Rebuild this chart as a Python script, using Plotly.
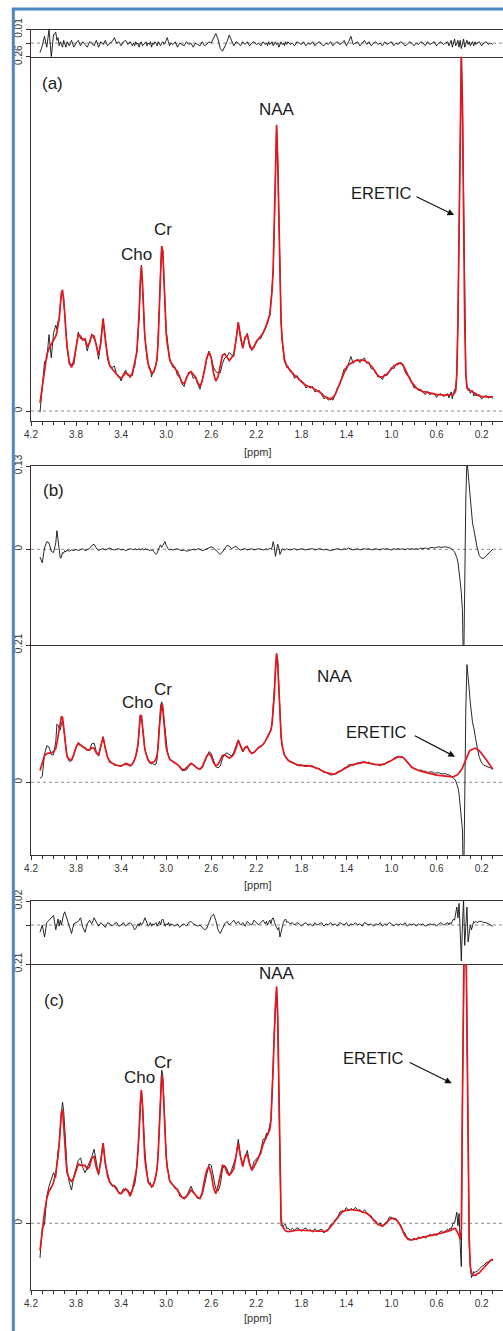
import plotly.graph_objects as go

# ---------------- data ----------------
PPM = [
    4.12, 4.10, 4.08, 4.06, 4.04, 4.02, 4.00, 3.98,
    3.97, 3.96, 3.95, 3.94, 3.93, 3.92, 3.91, 3.90, 3.89, 3.88,
    3.86, 3.84, 3.82, 3.80, 3.78, 3.76, 3.74, 3.72, 3.70, 3.68,
    3.66, 3.64, 3.62, 3.60, 3.58, 3.56, 3.54, 3.52, 3.50, 3.48,
    3.46, 3.44, 3.42, 3.40, 3.38, 3.36, 3.34, 3.32, 3.30,
    3.29, 3.28, 3.27, 3.26, 3.25, 3.24, 3.23, 3.22, 3.21, 3.20,
    3.19, 3.18, 3.17, 3.16, 3.15, 3.14, 3.13, 3.12, 3.11, 3.10,
    3.09, 3.08, 3.07, 3.06, 3.05, 3.04, 3.03, 3.02, 3.01, 3.00,
    2.99, 2.98, 2.97, 2.96,
    2.94, 2.92, 2.90, 2.88, 2.86, 2.84, 2.82, 2.80, 2.78, 2.76,
    2.74, 2.72, 2.70, 2.68, 2.66, 2.64, 2.62, 2.60, 2.58, 2.56,
    2.54, 2.52, 2.50, 2.48, 2.46, 2.44, 2.42, 2.40, 2.38, 2.36,
    2.34, 2.32, 2.30, 2.28, 2.26, 2.24, 2.22, 2.20, 2.18, 2.16,
    2.14, 2.12,
    2.11, 2.10, 2.09, 2.08, 2.07, 2.06, 2.05, 2.04, 2.03, 2.02,
    2.01, 2.00, 1.99, 1.98, 1.97, 1.96, 1.95, 1.94, 1.93,
    1.92, 1.90, 1.88, 1.86, 1.84, 1.82, 1.80, 1.78, 1.76, 1.74,
    1.72, 1.70, 1.68, 1.66, 1.64, 1.62, 1.60, 1.58, 1.56, 1.54,
    1.52, 1.50, 1.48, 1.46, 1.44, 1.42, 1.40, 1.38, 1.36, 1.34,
    1.32, 1.30, 1.28, 1.26, 1.24, 1.22, 1.20, 1.18, 1.16, 1.14,
    1.12, 1.10, 1.08, 1.06, 1.04, 1.02, 1.00, 0.98, 0.96, 0.94,
    0.92, 0.90, 0.88, 0.86, 0.84, 0.82, 0.80, 0.78, 0.76, 0.74,
    0.72, 0.70, 0.68, 0.66, 0.64, 0.62, 0.60, 0.58, 0.56, 0.54,
    0.52, 0.50,
    0.49, 0.48, 0.47, 0.46, 0.45, 0.44, 0.43, 0.42, 0.41, 0.40,
    0.39, 0.38, 0.37, 0.36, 0.35, 0.34, 0.33, 0.32, 0.31, 0.30,
    0.29, 0.28, 0.27, 0.26, 0.25, 0.24,
    0.22, 0.20, 0.18, 0.16, 0.14, 0.12, 0.10,
]

# panel (a): fitted spectrum (red) and residual (top strip)
FIT_A = [
    0.006, 0.019, 0.031, 0.041, 0.046, 0.049, 0.051, 0.055,
    0.058, 0.062, 0.068, 0.077, 0.087, 0.089, 0.082, 0.071, 0.058, 0.047,
    0.036, 0.032, 0.037, 0.046, 0.056, 0.055, 0.052, 0.053, 0.047, 0.050,
    0.056, 0.055, 0.047, 0.041, 0.050, 0.068, 0.052, 0.040, 0.033, 0.031,
    0.029, 0.027, 0.025, 0.024, 0.026, 0.028, 0.027, 0.025, 0.028,
    0.031, 0.034, 0.039, 0.044, 0.055, 0.072, 0.094, 0.106, 0.093, 0.071,
    0.055, 0.047, 0.040, 0.035, 0.032, 0.030, 0.028, 0.028, 0.029, 0.031,
    0.034, 0.040, 0.053, 0.078, 0.105, 0.121, 0.117, 0.094, 0.073, 0.057,
    0.049, 0.043, 0.039, 0.036,
    0.033, 0.031, 0.029, 0.025, 0.021, 0.020, 0.024, 0.028, 0.029, 0.027,
    0.025, 0.021, 0.018, 0.022, 0.031, 0.039, 0.043, 0.039, 0.028, 0.022,
    0.025, 0.032, 0.041, 0.042, 0.039, 0.037, 0.039, 0.042, 0.052, 0.065,
    0.055, 0.046, 0.054, 0.056, 0.049, 0.045, 0.047, 0.051, 0.053, 0.055,
    0.057, 0.061,
    0.063, 0.066, 0.068, 0.071, 0.080, 0.088, 0.105, 0.135, 0.180, 0.210,
    0.185, 0.140, 0.095, 0.065, 0.052, 0.043, 0.038, 0.035, 0.033,
    0.032, 0.030, 0.028, 0.026, 0.025, 0.023, 0.022, 0.020, 0.019, 0.018,
    0.018, 0.017, 0.016, 0.015, 0.014, 0.013, 0.011, 0.010, 0.009, 0.0085,
    0.010, 0.012, 0.016, 0.020, 0.025, 0.029, 0.032, 0.034, 0.035, 0.036,
    0.037, 0.037, 0.0375, 0.0375, 0.037, 0.036, 0.035, 0.033, 0.031, 0.028,
    0.026, 0.025, 0.025, 0.026, 0.027, 0.029, 0.031, 0.033, 0.034, 0.035,
    0.035, 0.034, 0.031, 0.027, 0.024, 0.021, 0.019, 0.017, 0.016, 0.015,
    0.014, 0.014, 0.0135, 0.013, 0.013, 0.012, 0.012, 0.012, 0.0117, 0.0117,
    0.0117, 0.0117,
    0.0117, 0.0117, 0.012, 0.012, 0.0125, 0.013, 0.016, 0.027, 0.065, 0.140,
    0.225, 0.262, 0.225, 0.140, 0.065, 0.027, 0.017, 0.016, 0.0155, 0.015,
    0.0145, 0.014, 0.013, 0.0125, 0.012, 0.0117,
    0.011, 0.0107, 0.0104, 0.0104, 0.0104, 0.0104, 0.0104,
]
RES_A = [
    -0.007, -0.002, 0.005, -0.003, 0.010, -0.010, 0.006, 0.008,
    0.002, 0.004, -0.002, 0.001, -0.001, -0.003, 0.002, -0.001, -0.003, 0.001,
    -0.002, 0.002, -0.003, 0.000, 0.002, -0.002, 0.001, -0.001, -0.003, 0.001,
    0.000, -0.002, 0.002, -0.003, 0.001, -0.001, 0.002, -0.002, 0.000, 0.001,
    0.004, 0.000, 0.001, -0.002, 0.001, 0.002, -0.001, 0.001, -0.002,
    0.000, -0.002, 0.001, -0.001, 0.000, -0.003, 0.000, 0.001, -0.002, -0.001,
    0.000, 0.001, -0.002, 0.000, -0.001, 0.001, -0.003, 0.000, -0.001, 0.001,
    0.000, -0.002, 0.001, -0.001, -0.002, 0.000, 0.001, -0.001, 0.000, 0.002,
    0.004, 0.001, -0.002, 0.000,
    -0.001, 0.001, -0.003, 0.000, -0.001, -0.002, 0.001, -0.001, 0.000, -0.003,
    0.000, -0.001, -0.002, 0.001, -0.002, -0.001, 0.001, 0.000, 0.004, 0.007,
    0.003, -0.004, -0.006, -0.003, 0.001, 0.006, 0.002, -0.002, 0.001, 0.000,
    -0.002, 0.001, -0.001, 0.001, -0.002, 0.000, 0.001, -0.001, 0.000, -0.002,
    0.001, -0.001,
    0.000, -0.002, 0.001, -0.001, 0.000, 0.001, -0.002, 0.000, 0.001, -0.001,
    0.000, -0.003, 0.000, 0.001, -0.001, 0.000, -0.002, 0.001, -0.001,
    0.001, -0.001, 0.000, -0.002, 0.001, 0.000, -0.001, 0.001, -0.002, 0.000,
    -0.001, 0.001, -0.002, 0.000, 0.001, -0.001, -0.002, 0.000, -0.001, 0.001,
    -0.002, 0.000, 0.001, -0.001, 0.000, 0.002, -0.002, 0.001, 0.005, -0.001,
    0.000, 0.001, -0.002, 0.000, 0.002, -0.001, 0.001, -0.002, 0.000, 0.001,
    -0.001, 0.000, -0.002, 0.001, -0.001, 0.000, 0.001, -0.002, 0.000, -0.001,
    0.001, 0.000, -0.002, -0.001, 0.001, 0.000, -0.002, 0.000, -0.001, 0.001,
    0.000, -0.002, 0.001, -0.001, 0.000, 0.001, -0.002, 0.000, 0.001, -0.001,
    0.000, 0.001,
    -0.002, 0.001, 0.002, -0.003, 0.000, 0.003, -0.002, 0.001, 0.002, -0.003,
    0.002, -0.004, 0.001, 0.003, -0.003, 0.000, 0.002, -0.001, 0.001, -0.002,
    0.000, 0.001, -0.002, 0.001, -0.001, 0.000,
    0.001, -0.002, 0.000, 0.001, -0.001, 0.000, -0.001,
]

# panel (b)
FIT_B = [
    0.018, 0.030, 0.041, 0.044, 0.044, 0.045, 0.047, 0.052,
    0.060, 0.071, 0.083, 0.094, 0.101, 0.099, 0.088, 0.070, 0.052, 0.040,
    0.035, 0.034, 0.043, 0.054, 0.060, 0.057, 0.054, 0.053, 0.049, 0.049,
    0.053, 0.052, 0.045, 0.042, 0.055, 0.069, 0.052, 0.038, 0.031, 0.029,
    0.027, 0.026, 0.025, 0.025, 0.027, 0.029, 0.028, 0.025, 0.028,
    0.031, 0.035, 0.040, 0.047, 0.058, 0.080, 0.102, 0.102, 0.085, 0.064,
    0.051, 0.044, 0.038, 0.034, 0.032, 0.030, 0.030, 0.030, 0.031, 0.033,
    0.036, 0.042, 0.058, 0.085, 0.110, 0.120, 0.112, 0.088, 0.068, 0.054,
    0.046, 0.040, 0.036, 0.034,
    0.032, 0.029, 0.027, 0.024, 0.020, 0.019, 0.022, 0.026, 0.029, 0.027,
    0.024, 0.021, 0.020, 0.024, 0.032, 0.040, 0.044, 0.040, 0.030, 0.025,
    0.027, 0.033, 0.041, 0.042, 0.039, 0.037, 0.039, 0.043, 0.052, 0.064,
    0.056, 0.047, 0.053, 0.055, 0.048, 0.044, 0.046, 0.050, 0.053, 0.055,
    0.058, 0.063,
    0.066, 0.069, 0.072, 0.075, 0.080, 0.089, 0.106, 0.133, 0.172, 0.197,
    0.180, 0.138, 0.098, 0.072, 0.055, 0.046, 0.042, 0.039, 0.036,
    0.034, 0.032, 0.030, 0.028, 0.027, 0.026, 0.026, 0.025, 0.025, 0.025,
    0.025, 0.024, 0.023, 0.022, 0.020, 0.018, 0.016, 0.015, 0.014, 0.013,
    0.0127, 0.013, 0.015, 0.017, 0.019, 0.021, 0.023, 0.025, 0.026, 0.027,
    0.028, 0.029, 0.030, 0.0305, 0.0305, 0.030, 0.030, 0.029, 0.028, 0.027,
    0.027, 0.026, 0.027, 0.028, 0.030, 0.032, 0.034, 0.036, 0.038, 0.039,
    0.039, 0.038, 0.035, 0.031, 0.027, 0.023, 0.021, 0.019, 0.018, 0.017,
    0.016, 0.015, 0.014, 0.0138, 0.013, 0.012, 0.011, 0.0105, 0.010, 0.0095,
    0.009, 0.0088,
    0.0087, 0.0086, 0.0085, 0.0084, 0.0085, 0.009, 0.010, 0.011, 0.012, 0.014,
    0.016, 0.019, 0.022, 0.026, 0.030, 0.034, 0.040, 0.044, 0.047, 0.049,
    0.050, 0.051, 0.052, 0.052, 0.052, 0.051,
    0.048, 0.044, 0.040, 0.035, 0.030, 0.025, 0.020,
]
RES_B = [
    -0.012, -0.021, 0.002, 0.012, 0.010, -0.003, -0.005, 0.010,
    0.029, 0.016, 0.000, -0.014, -0.012, -0.005, -0.006, -0.002, -0.004, -0.001,
    -0.003, -0.001, -0.002, 0.000, -0.002, -0.001, 0.001, -0.002, 0.000, 0.001,
    0.006, 0.008, 0.002, -0.002, 0.000, 0.001, -0.001, 0.000, 0.002, 0.000,
    -0.001, 0.000, 0.001, -0.001, 0.000, -0.002, -0.001, 0.001, 0.000,
    -0.001, 0.000, 0.001, -0.001, 0.000, 0.001, -0.001, 0.000, 0.001, -0.001,
    0.000, 0.001, -0.001, 0.000, -0.002, -0.001, -0.002, -0.001, -0.004, -0.006,
    -0.008, -0.006, 0.000, 0.004, 0.007, 0.003, 0.006, 0.010, 0.012, 0.006,
    0.002, 0.000, -0.001, 0.000,
    -0.001, 0.000, 0.001, -0.001, -0.002, -0.001, -0.003, -0.002, -0.001, 0.000,
    -0.001, 0.001, 0.000, -0.002, -0.001, 0.001, 0.003, 0.004, 0.002, -0.001,
    -0.005, -0.008, -0.004, 0.001, 0.006, 0.005, 0.001, 0.003, 0.005, 0.001,
    -0.001, 0.000, 0.001, -0.001, 0.000, 0.001, -0.001, 0.000, 0.001, 0.000,
    -0.001, 0.000,
    0.001, -0.001, 0.000, 0.002, 0.000, 0.003, 0.012, 0.004, -0.011, 0.000,
    0.008, 0.003, -0.008, -0.004, 0.001, 0.000, -0.001, 0.000, 0.001,
    0.000, -0.001, 0.000, 0.001, -0.001, 0.000, 0.001, 0.000, -0.001, 0.000,
    0.000, 0.001, -0.001, 0.000, 0.001, 0.000, -0.001, 0.000, -0.001, -0.002,
    -0.001, 0.000, 0.001, 0.000, -0.001, 0.001, 0.000, 0.002, 0.000, -0.001,
    0.000, 0.001, -0.001, 0.000, 0.001, 0.000, 0.001, -0.001, 0.000, 0.001,
    0.000, -0.001, 0.001, 0.000, 0.001, 0.000, -0.001, 0.001, 0.000, 0.001,
    0.000, 0.001, -0.001, 0.001, 0.000, 0.001, 0.000, 0.001, 0.000, 0.002,
    0.001, 0.002, 0.001, 0.002, 0.003, 0.002, 0.003, 0.004, 0.003, 0.004,
    0.004, 0.003,
    0.003, 0.002, 0.001, 0.000, -0.002, -0.004, -0.008, -0.013, -0.020, -0.032,
    -0.050, -0.068, -0.095, -0.200, -0.030, 0.080, 0.140, 0.120, 0.095, 0.072,
    0.052, 0.040, 0.032, 0.020, 0.010, 0.003,
    -0.010, -0.014, -0.014, -0.010, -0.006, -0.003, 0.000,
]

# panel (c)
FIT_C = [
    -0.022, -0.004, 0.009, 0.020, 0.026, 0.029, 0.033, 0.041,
    0.047, 0.054, 0.064, 0.077, 0.090, 0.092, 0.082, 0.066, 0.052, 0.041,
    0.036, 0.034, 0.037, 0.042, 0.048, 0.047, 0.047, 0.047, 0.044, 0.046,
    0.053, 0.054, 0.045, 0.040, 0.050, 0.065, 0.049, 0.038, 0.033, 0.031,
    0.030, 0.027, 0.025, 0.024, 0.026, 0.028, 0.026, 0.022, 0.027,
    0.031, 0.035, 0.040, 0.046, 0.057, 0.075, 0.097, 0.108, 0.095, 0.072,
    0.053, 0.045, 0.038, 0.034, 0.032, 0.031, 0.030, 0.030, 0.032, 0.035,
    0.039, 0.045, 0.058, 0.082, 0.107, 0.120, 0.115, 0.092, 0.071, 0.054,
    0.045, 0.039, 0.035, 0.033,
    0.031, 0.029, 0.027, 0.024, 0.021, 0.020, 0.022, 0.024, 0.027, 0.025,
    0.023, 0.021, 0.020, 0.025, 0.035, 0.043, 0.046, 0.040, 0.029, 0.024,
    0.030, 0.038, 0.047, 0.046, 0.041, 0.039, 0.041, 0.044, 0.053, 0.065,
    0.054, 0.046, 0.054, 0.056, 0.048, 0.043, 0.046, 0.050, 0.054, 0.057,
    0.064, 0.068,
    0.070, 0.071, 0.073, 0.076, 0.083, 0.100, 0.127, 0.155, 0.180, 0.192,
    0.170, 0.105, 0.035, 0.004, -0.002, -0.004, -0.005, -0.006, -0.0065,
    -0.0068, -0.0065, -0.006, -0.0058, -0.0056, -0.0055, -0.0055, -0.0056, -0.0058, -0.006,
    -0.006, -0.0062, -0.0063, -0.0064, -0.0066, -0.0067, -0.0068, -0.0066, -0.005, -0.003,
    -0.0005, 0.002, 0.0045, 0.007, 0.009, 0.010, 0.0108, 0.011, 0.011, 0.011,
    0.011, 0.0105, 0.010, 0.0095, 0.009, 0.008, 0.0068, 0.005, 0.003, 0.001,
    -0.001, -0.0015, -0.002, -0.001, 0.001, 0.003, 0.004, 0.004, 0.003, 0.001,
    -0.002, -0.006, -0.010, -0.012, -0.0135, -0.0135, -0.013, -0.0125, -0.012, -0.012,
    -0.0115, -0.011, -0.0105, -0.010, -0.0098, -0.0095, -0.009, -0.0085, -0.008, -0.0075,
    -0.007, -0.0068,
    -0.0062, -0.0058, -0.0055, -0.005, -0.0045, -0.004, -0.0045, -0.006, -0.008, -0.010,
    -0.013, -0.005, 0.100, 0.230, 0.275, 0.245, 0.150, 0.045, -0.012, -0.035,
    -0.040, -0.041, -0.042, -0.042, -0.042, -0.041,
    -0.040, -0.038, -0.036, -0.034, -0.032, -0.030, -0.029,
]
RES_C = [
    -0.006, 0.000, -0.010, 0.002, 0.004, 0.006, 0.008, -0.004,
    0.002, 0.005, -0.001, 0.004, 0.000, 0.006, 0.009, 0.011, 0.008, 0.003,
    -0.003, -0.007, 0.001, 0.002, 0.003, 0.006, -0.002, -0.006, 0.001, 0.004,
    0.001, 0.006, 0.003, -0.001, 0.002, 0.000, -0.002, 0.002, 0.001, -0.001,
    0.001, 0.002, -0.001, 0.000, 0.002, -0.001, 0.001, 0.002, 0.000,
    -0.002, -0.004, -0.003, 0.000, 0.001, -0.001, 0.002, 0.000, 0.001, 0.003,
    0.006, 0.004, 0.001, -0.001, 0.000, 0.002, -0.001, 0.001, 0.000, 0.001,
    0.002, -0.001, 0.001, 0.003, 0.000, 0.004, 0.005, 0.002, -0.001, 0.001,
    0.000, 0.002, -0.001, 0.001,
    0.000, -0.001, 0.001, -0.002, 0.000, 0.001, -0.001, 0.002, 0.003, 0.001,
    0.000, -0.001, 0.000, -0.002, -0.004, -0.003, 0.002, 0.007, 0.009, 0.004,
    -0.004, -0.007, -0.003, 0.001, 0.003, 0.000, 0.002, 0.004, 0.001, 0.003,
    0.000, 0.002, -0.001, 0.003, 0.001, 0.000, 0.004, 0.002, 0.000, 0.002,
    0.004, 0.001,
    0.003, 0.000, 0.002, 0.004, 0.001, 0.005, 0.006, 0.002, 0.000, -0.002,
    -0.004, -0.002, -0.010, -0.006, 0.000, 0.002, 0.004, 0.005, 0.002,
    0.003, 0.001, 0.002, 0.000, 0.002, 0.001, -0.001, 0.001, 0.002, 0.000,
    0.001, -0.001, 0.002, 0.000, 0.001, 0.002, -0.001, 0.001, 0.000, 0.002,
    0.000, 0.001, -0.001, 0.002, 0.001, 0.000, 0.002, -0.001, 0.001, 0.000,
    0.002, 0.000, 0.001, -0.001, 0.002, 0.001, 0.000, 0.001, -0.001, 0.001,
    0.000, 0.002, -0.001, 0.001, 0.000, 0.002, 0.001, -0.001, 0.001, 0.000,
    0.001, 0.000, 0.002, -0.001, 0.001, 0.000, 0.001, -0.001, 0.001, 0.000,
    0.001, -0.001, 0.000, 0.001, 0.000, 0.001, -0.001, 0.001, 0.002, 0.000,
    0.001, 0.002,
    0.000, 0.002, 0.001, 0.003, 0.005, 0.004, 0.010, 0.015, 0.006, 0.018,
    -0.005, -0.030, 0.000, 0.021, -0.017, 0.002, 0.015, -0.014, -0.006, 0.000,
    -0.004, -0.001, 0.003, 0.002, 0.003, 0.002,
    0.003, 0.003, 0.002, 0.002, 0.001, 0.000, -0.001,
]

X_TICK_LABELS = ["4.2", "3.8", "3.4", "3.0", "2.6", "2.2", "1.8", "1.4", "1.0", "0.6", "0.2"]
X_TICK_VALUES = [4.2, 3.8, 3.4, 3.0, 2.6, 2.2, 1.8, 1.4, 1.0, 0.6, 0.2]

for _name, _arr in [("FIT_A", FIT_A), ("RES_A", RES_A), ("FIT_B", FIT_B),
                    ("RES_B", RES_B), ("FIT_C", FIT_C), ("RES_C", RES_C)]:
    if len(_arr) != len(PPM):
        raise ValueError(f"{_name} has {len(_arr)} values, PPM has {len(PPM)}")

# ---------------- layout constants ----------------
W, H = 503, 1331
FONT = "Liberation Sans, Arial, Helvetica, sans-serif"
AX = "#333333"
RED = "#e3161d"
BLK = "#111111"


def fy(px):
    return 1 - px / H


X_DOMAIN = [31 / W, 1.0]
X_RANGE = [4.2, 0.01]

# (top px, bottom px, y range, tick values, tick texts, is residual strip)
PANELS = [
    (29.5, 56.7, [-0.01, 0.0100001], [0, 0.01], ["", "0.01"], True),
    (56.7, 420.7, [-0.0071, 0.26001], [0, 0.26], ["0", "0.26"], False),
    (466.0, 645.0, [-0.1493, 0.13001], [0, 0.13], ["0", "0.13"], True),
    (645.0, 855.0, [-0.1112, 0.21001], [0, 0.21], ["0", "0.21"], False),
    (901.0, 964.0, [-0.0325, 0.020001], [0, 0.02], ["", "0.02"], True),
    (964.0, 1290.0, [-0.054, 0.21001], [0, 0.21], ["0", "0.21"], False),
]

fig = go.Figure()

series = [
    (RES_A, FIT_A),
    (RES_B, FIT_B),
    (RES_C, FIT_C),
]

for k, (res, fit) in enumerate(series):
    ri = 2 * k + 1
    mi = 2 * k + 2
    data = [f + r for f, r in zip(fit, res)]
    fig.add_trace(go.Scatter(x=PPM, y=res, mode="lines",
                             line=dict(color=BLK, width=0.9),
                             xaxis=f"x{ri}" if ri > 1 else "x",
                             yaxis=f"y{ri}" if ri > 1 else "y",
                             hoverinfo="skip"))
    fig.add_trace(go.Scatter(x=PPM, y=data, mode="lines",
                             line=dict(color=BLK, width=0.9),
                             xaxis=f"x{mi}", yaxis=f"y{mi}", hoverinfo="skip"))
    fig.add_trace(go.Scatter(x=PPM, y=fit, mode="lines",
                             line=dict(color=RED, width=1.7),
                             xaxis=f"x{mi}", yaxis=f"y{mi}", hoverinfo="skip"))

layout = dict(
    width=W, height=H, autosize=False,
    margin=dict(l=0, r=0, t=0, b=0, pad=0),
    paper_bgcolor="white", plot_bgcolor="white",
    showlegend=False,
    font=dict(family=FONT, color="#1a1a1a"),
)

shapes = []
for i, (top, bot, yr, tv, tt, is_res) in enumerate(PANELS, start=1):
    sfx = "" if i == 1 else str(i)
    xa = dict(domain=X_DOMAIN, range=X_RANGE, anchor=f"y{sfx}",
              showline=True, linecolor=AX, linewidth=1,
              showgrid=False, zeroline=False, fixedrange=True, automargin=False)
    if is_res:
        xa.update(mirror=True, ticks="", showticklabels=False)
    else:
        xa.update(ticks="outside", ticklen=4, tickwidth=1, tickcolor=AX,
                  tickmode="array", tickvals=X_TICK_VALUES, ticktext=X_TICK_LABELS,
                  tickfont=dict(family=FONT, size=10, color=AX),
                  minor=dict(ticks="outside", dtick=0.1, tick0=0.2, ticklen=3,
                             tickwidth=1, tickcolor=AX, showgrid=False))
    ya = dict(domain=[fy(bot), fy(top)], range=yr, anchor=f"x{sfx}",
              showline=True, linecolor=AX, linewidth=1,
              showgrid=False, zeroline=False, fixedrange=True, automargin=False,
              ticks="outside", ticklen=4, tickwidth=1, tickcolor=AX,
              tickmode="array", tickvals=tv, ticktext=tt, tickangle=-90,
              tickfont=dict(family=FONT, size=10, color=AX))
    layout[f"xaxis{sfx}"] = xa
    layout[f"yaxis{sfx}"] = ya
    # dotted zero line
    shapes.append(dict(type="line", xref=f"x{sfx} domain", x0=0, x1=1,
                       yref=f"y{sfx}", y0=0, y1=0, layer="below",
                       line=dict(color="#8a8a8a", width=1, dash="dot")))

# blue frame (left and top edges)
shapes.append(dict(type="line", xref="paper", yref="paper",
                   x0=13.3 / W, x1=13.3 / W, y0=fy(8.5), y1=0,
                   line=dict(color="#4f86c6", width=3)))
shapes.append(dict(type="line", xref="paper", yref="paper",
                   x0=12 / W, x1=1.0, y0=fy(9), y1=fy(9),
                   line=dict(color="#4f86c6", width=3)))
layout["shapes"] = shapes


def label(text, xref, yref, x, y, size=17):
    return dict(text=text, xref=xref, yref=yref, x=x, y=y, showarrow=False,
                xanchor="center", yanchor="middle",
                font=dict(family=FONT, size=size, color="#1a1a1a"))


def arrow(xref, yref, x_head, y_head, x_tail, y_tail):
    return dict(text="", xref=xref, yref=yref, x=x_head, y=y_head,
                axref=xref, ayref=yref, ax=x_tail, ay=y_tail,
                showarrow=True, arrowhead=2, arrowsize=1.1, arrowwidth=1.2,
                arrowcolor="#111111", standoff=0, startstandoff=0)


ann = [
    # panel (a)
    label("(a)", "x2", "y2", 4.006, 0.2407),
    label("NAA", "x2", "y2", 2.018, 0.2209),
    label("Cr", "x2", "y2", 3.028, 0.133),
    label("Cho", "x2", "y2", 3.262, 0.1145),
    label("ERETIC", "x2", "y2", 1.093, 0.160, size=16.5),
    arrow("x2", "y2", 0.444, 0.1438, 0.791, 0.1578),
    # panel (b)
    label("(b)", "x3", "y3", 4.0, 0.0925),
    label("NAA", "x4", "y4", 1.505, 0.1626),
    label("Cr", "x4", "y4", 3.027, 0.1427),
    label("Cho", "x4", "y4", 3.258, 0.1228),
    label("ERETIC", "x4", "y4", 1.129, 0.0769, size=16.5),
    arrow("x4", "y4", 0.436, 0.0392, 0.806, 0.0723),
    # panel (c)
    label("(c)", "x6", "y6", 4.0, 0.1808),
    label("NAA", "x6", "y6", 2.018, 0.2025),
    label("Cr", "x6", "y6", 3.028, 0.130),
    label("Cho", "x6", "y6", 3.24, 0.1177),
    label("ERETIC", "x6", "y6", 1.159, 0.1339, size=16.5),
    arrow("x6", "y6", 0.465, 0.1134, 0.851, 0.1309),
]
for ypx in (452, 885, 1318):
    ann.append(dict(text="[ppm]", xref="paper", yref="paper",
                    x=257.5 / W, y=fy(ypx), showarrow=False,
                    xanchor="center", yanchor="middle",
                    font=dict(family=FONT, size=11, color=AX)))
layout["annotations"] = ann

fig.update_layout(**layout)
fig.write_html(
    "out.html",
    config={"displayModeBar": False, "staticPlot": True},
    post_script="document.body.style.margin='0px';"
                "document.body.style.overflow='hidden';",
)
